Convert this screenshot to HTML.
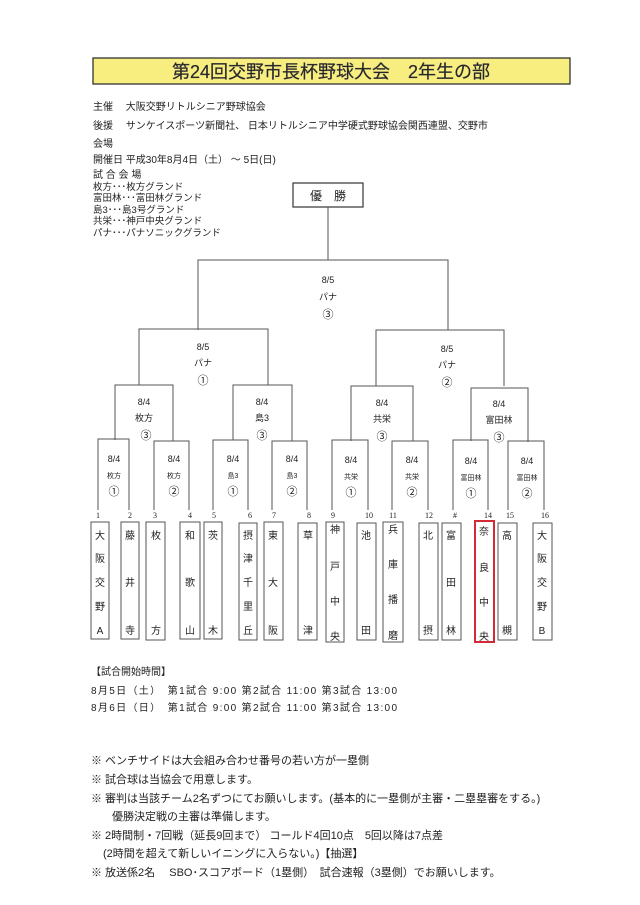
<!DOCTYPE html>
<html><head><meta charset="utf-8"><style>
html,body{margin:0;padding:0;background:#fff}
svg{display:block}
text{font-family:"Liberation Sans","Noto Sans CJK JP",sans-serif;fill:#222}
</style></head><body>
<svg width="640" height="905" viewBox="0 0 640 905" xmlns="http://www.w3.org/2000/svg">
<rect x="93" y="58" width="477" height="26" fill="#f8ee80" stroke="#333" stroke-width="1.3"/>
<text x="331" y="78" font-size="18" text-anchor="middle" fill="#555" stroke="#555" stroke-width="0.3">第24回交野市長杯野球大会　2年生の部</text>
<g font-size="10">
<text x="93" y="110">主催　 大阪交野リトルシニア野球協会</text>
<text x="93" y="129">後援　 サンケイスポーツ新聞社、 日本リトルシニア中学硬式野球協会関西連盟、交野市</text>
<text x="93" y="147">会場</text>
<text x="93" y="163">開催日  平成30年8月4日（土） ～  5日(日)</text>
<text x="93" y="178">試 合 会 場</text>
<text x="93" y="190" font-size="9.5">枚方･･･枚方グランド</text>
<text x="93" y="201" font-size="9.5">富田林･･･富田林グランド</text>
<text x="93" y="213" font-size="9.5">島3･･･島3号グランド</text>
<text x="93" y="224" font-size="9.5">共栄･･･神戸中央グランド</text>
<text x="93" y="236" font-size="9.5">パナ･･･パナソニックグランド</text>
</g>
<rect x="293" y="183" width="70" height="24" fill="#fff" stroke="#333" stroke-width="1.2"/>
<text x="328" y="200" font-size="12" text-anchor="middle">優　勝</text>
<g fill="none" stroke="#555" stroke-width="1">
<path d="M328 207V260M198 330V260H448V330"/>
<path d="M139 385V329H268V385M376 386V330H504V386"/>
<path d="M115 440V385H173V441M233 440V385H292V441M351 441V386H413V441M471 441V388H528V442"/>
<path d="M98 510V439H129V510M154 510V441H189V510M213 510V440H248V510M272 510V441H307V510M332 510V440H368V510M392 510V441H428V510M453 510V440H488V510M508 510V441H544V510"/>
</g>
<g font-size="9" text-anchor="middle">
<text x="328" y="283">8/5</text><text x="328" y="300">パナ</text><text x="328" y="318" font-size="11">③</text>
<text x="203" y="350">8/5</text><text x="203" y="366">パナ</text><text x="203" y="384" font-size="11">①</text>
<text x="447" y="352">8/5</text><text x="447" y="368">パナ</text><text x="447" y="386" font-size="11">②</text>
<text x="144" y="405">8/4</text><text x="144" y="421">枚方</text><text x="146" y="439" font-size="11">③</text>
<text x="262" y="405">8/4</text><text x="262" y="421">島3</text><text x="262" y="439" font-size="11">③</text>
<text x="382" y="406">8/4</text><text x="382" y="422">共栄</text><text x="382" y="440" font-size="11">③</text>
<text x="499" y="407">8/4</text><text x="499" y="423">富田林</text><text x="499" y="441" font-size="11">③</text>
</g>
<g font-size="9" text-anchor="middle">
<text x="114" y="462">8/4</text><text x="114" y="478" font-size="7">枚方</text><text x="114" y="495" font-size="11">①</text>
<text x="174" y="462">8/4</text><text x="174" y="478" font-size="7">枚方</text><text x="174" y="495" font-size="11">②</text>
<text x="233" y="462">8/4</text><text x="233" y="478" font-size="7">島3</text><text x="233" y="495" font-size="11">①</text>
<text x="292" y="462">8/4</text><text x="292" y="478" font-size="7">島3</text><text x="292" y="495" font-size="11">②</text>
<text x="351" y="463">8/4</text><text x="351" y="479" font-size="7">共栄</text><text x="351" y="496" font-size="11">①</text>
<text x="412" y="463">8/4</text><text x="412" y="479" font-size="7">共栄</text><text x="412" y="496" font-size="11">②</text>
<text x="471" y="464">8/4</text><text x="471" y="480" font-size="7">富田林</text><text x="471" y="497" font-size="11">①</text>
<text x="527" y="464">8/4</text><text x="527" y="480" font-size="7">富田林</text><text x="527" y="497" font-size="11">②</text>
</g>
<g font-size="8" text-anchor="middle">
<text x="98" y="518" style="font-family:'Liberation Serif',serif">1</text>
<text x="130" y="518" style="font-family:'Liberation Serif',serif">2</text>
<text x="155" y="518" style="font-family:'Liberation Serif',serif">3</text>
<text x="190" y="518" style="font-family:'Liberation Serif',serif">4</text>
<text x="214" y="518" style="font-family:'Liberation Serif',serif">5</text>
<text x="250" y="518" style="font-family:'Liberation Serif',serif">6</text>
<text x="274" y="518" style="font-family:'Liberation Serif',serif">7</text>
<text x="309" y="518" style="font-family:'Liberation Serif',serif">8</text>
<text x="333" y="518" style="font-family:'Liberation Serif',serif">9</text>
<text x="369" y="518" style="font-family:'Liberation Serif',serif">10</text>
<text x="393" y="518" style="font-family:'Liberation Serif',serif">11</text>
<text x="429" y="518" style="font-family:'Liberation Serif',serif">12</text>
<text x="455" y="518" style="font-family:'Liberation Serif',serif">#</text>
<text x="488" y="518" style="font-family:'Liberation Serif',serif">14</text>
<text x="510" y="518" style="font-family:'Liberation Serif',serif">15</text>
<text x="545" y="518" style="font-family:'Liberation Serif',serif">16</text>
</g>
<g fill="none" stroke="#555" stroke-width="1">
<rect x="91" y="522" width="18" height="117"/>
<rect x="121" y="522" width="18" height="117"/>
<rect x="146" y="522" width="19" height="118"/>
<rect x="180" y="522" width="20" height="117"/>
<rect x="204" y="522" width="18" height="117"/>
<rect x="239" y="523" width="18" height="117"/>
<rect x="264" y="522" width="19" height="118"/>
<rect x="298" y="523" width="19" height="117"/>
<rect x="326" y="522" width="18" height="120"/>
<rect x="357" y="523" width="19" height="117"/>
<rect x="383" y="522" width="20" height="120"/>
<rect x="419" y="523" width="19" height="117"/>
<rect x="442" y="523" width="19" height="117"/>
<rect x="498" y="523" width="19" height="117"/>
<rect x="533" y="523" width="19" height="117"/>
</g>
<rect x="475" y="521" width="19" height="121" fill="none" stroke="#d42a35" stroke-width="2"/>
<g font-size="10" text-anchor="middle">
<text x="100" y="539">大</text><text x="100" y="562">阪</text><text x="100" y="586">交</text><text x="100" y="610">野</text><text x="100" y="634">A</text>
<text x="130" y="539">藤</text><text x="130" y="586">井</text><text x="130" y="634">寺</text>
<text x="156" y="539">枚</text><text x="156" y="634">方</text>
<text x="190" y="539">和</text><text x="190" y="586">歌</text><text x="190" y="634">山</text>
<text x="213" y="539">茨</text><text x="213" y="634">木</text>
<text x="248" y="539">摂</text><text x="248" y="562">津</text><text x="248" y="586">千</text><text x="248" y="610">里</text><text x="248" y="634">丘</text>
<text x="273" y="539">東</text><text x="273" y="586">大</text><text x="273" y="634">阪</text>
<text x="308" y="539">草</text><text x="308" y="634">津</text>
<text x="335" y="533">神</text><text x="335" y="570">戸</text><text x="335" y="605">中</text><text x="335" y="640">央</text>
<text x="366" y="539">池</text><text x="366" y="634">田</text>
<text x="393" y="533">兵</text><text x="393" y="568">庫</text><text x="393" y="603">播</text><text x="393" y="639">磨</text>
<text x="428" y="539">北</text><text x="428" y="634">摂</text>
<text x="451" y="539">富</text><text x="451" y="586">田</text><text x="451" y="634">林</text>
<text x="484" y="535">奈</text><text x="484" y="571">良</text><text x="484" y="606">中</text><text x="484" y="640">央</text>
<text x="507" y="539">高</text><text x="507" y="634">槻</text>
<text x="542" y="539">大</text><text x="542" y="562">阪</text><text x="542" y="586">交</text><text x="542" y="610">野</text><text x="542" y="634">B</text>
</g>
<g font-size="10">
<text x="91" y="675">【試合開始時間】</text>
<text x="91" y="694" textLength="306" lengthAdjust="spacing">8月5日（土）　第1試合  9:00  第2試合   11:00  第3試合   13:00</text>
<text x="91" y="711" textLength="306" lengthAdjust="spacing">8月6日（日）　第1試合  9:00  第2試合   11:00  第3試合   13:00</text>
<g font-size="11">
<text x="91" y="764">※  ベンチサイドは大会組み合わせ番号の若い方が一塁側</text>
<text x="91" y="783">※  試合球は当協会で用意します。</text>
<text x="91" y="802">※  審判は当該チーム2名ずつにてお願いします。(基本的に一塁側が主審・二塁塁審をする。)</text>
<text x="112" y="820">優勝決定戦の主審は準備します。</text>
<text x="91" y="839">※  2時間制・7回戦（延長9回まで） コールド4回10点　5回以降は7点差</text>
<text x="103" y="857">(2時間を超えて新しいイニングに入らない。)【抽選】</text>
<text x="91" y="876">※  放送係2名　 SBO･スコアボード（1塁側）　試合速報（3塁側）でお願いします。</text>
</g>
</g>
</svg>
</body></html>
